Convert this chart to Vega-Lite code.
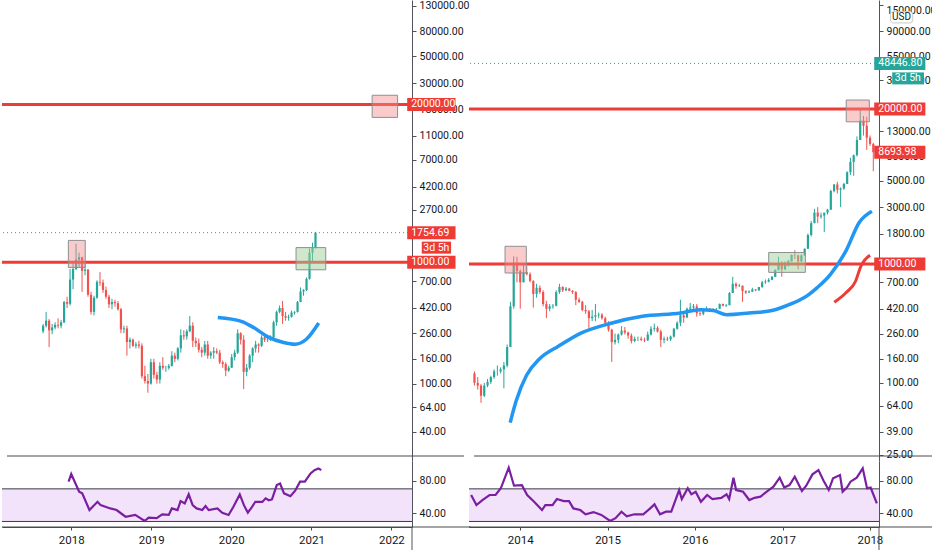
{
  "$schema": "https://vega.github.io/schema/vega-lite/v6.json",
  "padding": 0,
  "background": "white",
  "config": {"view": {"stroke": null}, "font": "Roboto"},
  "datasets": {
    "eth": [
      {"d":"2017-08-07","o":270,"h":310,"l":260,"c":300},
      {"d":"2017-08-21","o":300,"h":390,"l":290,"c":330},
      {"d":"2017-09-04","o":330,"h":340,"l":200,"c":275},
      {"d":"2017-09-18","o":275,"h":310,"l":255,"c":290},
      {"d":"2017-10-02","o":290,"h":320,"l":280,"c":305},
      {"d":"2017-10-16","o":305,"h":345,"l":285,"c":300},
      {"d":"2017-10-30","o":300,"h":335,"l":285,"c":320},
      {"d":"2017-11-13","o":320,"h":480,"l":315,"c":470},
      {"d":"2017-11-27","o":470,"h":520,"l":420,"c":455},
      {"d":"2017-12-11","o":455,"h":880,"l":440,"c":720},
      {"d":"2017-12-25","o":720,"h":1000,"l":600,"c":880},
      {"d":"2018-01-08","o":880,"h":1420,"l":860,"c":1050},
      {"d":"2018-01-22","o":1050,"h":1200,"l":900,"c":1100},
      {"d":"2018-02-05","o":1100,"h":1110,"l":570,"c":850},
      {"d":"2018-02-19","o":850,"h":960,"l":780,"c":870},
      {"d":"2018-03-05","o":870,"h":880,"l":520,"c":540},
      {"d":"2018-03-19","o":540,"h":570,"l":370,"c":390},
      {"d":"2018-04-02","o":390,"h":530,"l":365,"c":510},
      {"d":"2018-04-16","o":510,"h":710,"l":500,"c":690},
      {"d":"2018-04-30","o":690,"h":830,"l":640,"c":680},
      {"d":"2018-05-14","o":680,"h":720,"l":560,"c":590},
      {"d":"2018-05-28","o":590,"h":630,"l":500,"c":520},
      {"d":"2018-06-11","o":520,"h":540,"l":420,"c":450},
      {"d":"2018-06-25","o":450,"h":500,"l":410,"c":470},
      {"d":"2018-07-09","o":470,"h":490,"l":430,"c":460},
      {"d":"2018-07-23","o":460,"h":480,"l":400,"c":410},
      {"d":"2018-08-06","o":410,"h":420,"l":260,"c":280},
      {"d":"2018-08-20","o":280,"h":300,"l":260,"c":285},
      {"d":"2018-09-03","o":285,"h":300,"l":170,"c":220},
      {"d":"2018-09-17","o":220,"h":240,"l":195,"c":230},
      {"d":"2018-10-01","o":230,"h":235,"l":200,"c":205},
      {"d":"2018-10-15","o":205,"h":220,"l":195,"c":210},
      {"d":"2018-10-29","o":210,"h":225,"l":195,"c":205},
      {"d":"2018-11-12","o":205,"h":215,"l":110,"c":115},
      {"d":"2018-11-26","o":115,"h":140,"l":100,"c":105},
      {"d":"2018-12-10","o":105,"h":120,"l":84,"c":100},
      {"d":"2018-12-24","o":100,"h":160,"l":98,"c":150},
      {"d":"2019-01-07","o":150,"h":160,"l":110,"c":118},
      {"d":"2019-01-21","o":118,"h":125,"l":100,"c":108},
      {"d":"2019-02-04","o":108,"h":150,"l":100,"c":140},
      {"d":"2019-02-18","o":140,"h":165,"l":130,"c":135},
      {"d":"2019-03-04","o":135,"h":140,"l":125,"c":135},
      {"d":"2019-03-18","o":135,"h":145,"l":130,"c":140},
      {"d":"2019-04-01","o":140,"h":185,"l":138,"c":170},
      {"d":"2019-04-15","o":170,"h":180,"l":150,"c":160},
      {"d":"2019-04-29","o":160,"h":200,"l":155,"c":195},
      {"d":"2019-05-13","o":195,"h":280,"l":180,"c":250},
      {"d":"2019-05-27","o":250,"h":275,"l":230,"c":245},
      {"d":"2019-06-10","o":245,"h":280,"l":230,"c":270},
      {"d":"2019-06-24","o":270,"h":360,"l":265,"c":300},
      {"d":"2019-07-08","o":300,"h":320,"l":200,"c":225},
      {"d":"2019-07-22","o":225,"h":240,"l":200,"c":215},
      {"d":"2019-08-05","o":215,"h":235,"l":180,"c":190},
      {"d":"2019-08-19","o":190,"h":200,"l":165,"c":180},
      {"d":"2019-09-02","o":180,"h":225,"l":170,"c":210},
      {"d":"2019-09-16","o":210,"h":225,"l":160,"c":170},
      {"d":"2019-09-30","o":170,"h":185,"l":160,"c":180},
      {"d":"2019-10-14","o":180,"h":200,"l":160,"c":185},
      {"d":"2019-10-28","o":185,"h":195,"l":175,"c":180},
      {"d":"2019-11-11","o":180,"h":190,"l":145,"c":150},
      {"d":"2019-11-25","o":150,"h":155,"l":135,"c":145},
      {"d":"2019-12-09","o":145,"h":150,"l":115,"c":128},
      {"d":"2019-12-23","o":128,"h":140,"l":125,"c":135},
      {"d":"2020-01-06","o":135,"h":175,"l":135,"c":165},
      {"d":"2020-01-20","o":165,"h":190,"l":155,"c":180},
      {"d":"2020-02-03","o":180,"h":280,"l":175,"c":260},
      {"d":"2020-02-17","o":260,"h":265,"l":210,"c":230},
      {"d":"2020-03-02","o":230,"h":250,"l":90,"c":125},
      {"d":"2020-03-16","o":125,"h":145,"l":115,"c":135},
      {"d":"2020-03-30","o":135,"h":175,"l":130,"c":170},
      {"d":"2020-04-13","o":170,"h":200,"l":150,"c":195},
      {"d":"2020-04-27","o":195,"h":225,"l":180,"c":210},
      {"d":"2020-05-11","o":210,"h":215,"l":180,"c":205},
      {"d":"2020-05-25","o":205,"h":250,"l":200,"c":240},
      {"d":"2020-06-08","o":240,"h":250,"l":220,"c":230},
      {"d":"2020-06-22","o":230,"h":240,"l":220,"c":228},
      {"d":"2020-07-06","o":228,"h":250,"l":225,"c":240},
      {"d":"2020-07-20","o":240,"h":330,"l":235,"c":320},
      {"d":"2020-08-03","o":320,"h":400,"l":300,"c":390},
      {"d":"2020-08-17","o":390,"h":440,"l":380,"c":420},
      {"d":"2020-08-31","o":420,"h":480,"l":310,"c":360},
      {"d":"2020-09-14","o":360,"h":390,"l":330,"c":350},
      {"d":"2020-09-28","o":350,"h":370,"l":330,"c":355},
      {"d":"2020-10-12","o":355,"h":400,"l":350,"c":385},
      {"d":"2020-10-26","o":385,"h":395,"l":370,"c":390},
      {"d":"2020-11-09","o":390,"h":480,"l":385,"c":470},
      {"d":"2020-11-23","o":470,"h":620,"l":470,"c":575},
      {"d":"2020-12-07","o":575,"h":600,"l":530,"c":590},
      {"d":"2020-12-21","o":590,"h":750,"l":580,"c":730},
      {"d":"2021-01-04","o":730,"h":1300,"l":720,"c":1200},
      {"d":"2021-01-18","o":1200,"h":1450,"l":1000,"c":1320},
      {"d":"2021-02-01","o":1320,"h":1780,"l":1300,"c":1755}
    ],
    "ethMa": [
      {"d":"2019-11-02","v":351},{"d":"2020-02-20","v":326},{"d":"2020-04-20","v":288},{"d":"2020-06-21","v":244},
      {"d":"2020-09-05","v":218},{"d":"2020-10-28","v":211},{"d":"2020-12-20","v":232},{"d":"2021-02-16","v":316}
    ],
    "ethBoxes": [
      {"k":"red","d":"2017-12-03","d2":"2018-02-20","lo":906,"hi":1514},
      {"k":"green","d":"2020-11-02","d2":"2021-03-21","lo":867,"hi":1321},
      {"k":"red","d":"2021-10-24","d2":"2022-02-20","lo":15630,"hi":23800}
    ],
    "ethRsi": [
      {"d":"2017-12-20","v":78.8},{"d":"2018-01-01","v":88.2},{"d":"2018-02-06","v":66.5},{"d":"2018-02-20","v":64.5},
      {"d":"2018-03-25","v":44},{"d":"2018-05-01","v":54.2},{"d":"2018-05-15","v":50},{"d":"2018-06-28","v":46},
      {"d":"2018-07-27","v":44},{"d":"2018-09-06","v":35.8},{"d":"2018-10-20","v":38},{"d":"2018-12-02","v":30.6},
      {"d":"2018-12-20","v":34.7},{"d":"2019-01-26","v":34},{"d":"2019-02-20","v":38.8},{"d":"2019-03-22","v":38},
      {"d":"2019-04-05","v":46},{"d":"2019-05-01","v":44},{"d":"2019-05-15","v":55},{"d":"2019-06-03","v":52},
      {"d":"2019-06-21","v":63.3},{"d":"2019-07-09","v":50},{"d":"2019-07-27","v":46},{"d":"2019-08-22","v":44},
      {"d":"2019-09-06","v":49},{"d":"2019-09-20","v":44},{"d":"2019-10-30","v":46},{"d":"2019-11-21","v":40.7},
      {"d":"2019-12-20","v":38},{"d":"2020-01-11","v":48},{"d":"2020-02-09","v":63.2},{"d":"2020-02-28","v":50},
      {"d":"2020-03-17","v":40.7},{"d":"2020-04-05","v":48},{"d":"2020-04-20","v":54.2},{"d":"2020-05-22","v":54},
      {"d":"2020-06-06","v":58.4},{"d":"2020-06-21","v":56},{"d":"2020-07-05","v":57},{"d":"2020-07-27","v":74.7},
      {"d":"2020-08-11","v":76.6},{"d":"2020-08-29","v":64.5},{"d":"2020-09-27","v":61},{"d":"2020-10-19","v":67.7},
      {"d":"2020-11-10","v":78.8},{"d":"2020-12-02","v":78.8},{"d":"2020-12-28","v":89},{"d":"2021-01-15","v":93},
      {"d":"2021-02-02","v":95},{"d":"2021-02-15","v":93}
    ],
    "btc": [
      {"d":"2013-06-03","o":120,"h":125,"l":95,"c":100},
      {"d":"2013-06-17","o":100,"h":112,"l":88,"c":95},
      {"d":"2013-07-01","o":95,"h":98,"l":68,"c":78},
      {"d":"2013-07-15","o":78,"h":100,"l":76,"c":95},
      {"d":"2013-07-29","o":95,"h":108,"l":92,"c":102},
      {"d":"2013-08-12","o":102,"h":115,"l":98,"c":112},
      {"d":"2013-08-26","o":112,"h":130,"l":108,"c":125},
      {"d":"2013-09-09","o":125,"h":140,"l":115,"c":125},
      {"d":"2013-09-23","o":125,"h":135,"l":120,"c":130},
      {"d":"2013-10-07","o":130,"h":150,"l":90,"c":140},
      {"d":"2013-10-21","o":140,"h":210,"l":135,"c":200},
      {"d":"2013-11-04","o":200,"h":480,"l":200,"c":440},
      {"d":"2013-11-18","o":440,"h":1160,"l":420,"c":1000},
      {"d":"2013-12-02","o":1000,"h":1150,"l":700,"c":870},
      {"d":"2013-12-16","o":870,"h":900,"l":420,"c":700},
      {"d":"2013-12-30","o":700,"h":1000,"l":700,"c":850},
      {"d":"2014-01-13","o":850,"h":960,"l":800,"c":820},
      {"d":"2014-01-27","o":820,"h":850,"l":700,"c":720},
      {"d":"2014-02-10","o":720,"h":730,"l":430,"c":560},
      {"d":"2014-02-24","o":560,"h":680,"l":520,"c":630},
      {"d":"2014-03-10","o":630,"h":660,"l":560,"c":580},
      {"d":"2014-03-24","o":580,"h":600,"l":440,"c":460},
      {"d":"2014-04-07","o":460,"h":490,"l":350,"c":420},
      {"d":"2014-04-21","o":420,"h":460,"l":400,"c":440},
      {"d":"2014-05-05","o":440,"h":460,"l":420,"c":445},
      {"d":"2014-05-19","o":445,"h":600,"l":440,"c":580},
      {"d":"2014-06-02","o":580,"h":680,"l":560,"c":640},
      {"d":"2014-06-16","o":640,"h":650,"l":580,"c":600},
      {"d":"2014-06-30","o":600,"h":640,"l":590,"c":620},
      {"d":"2014-07-14","o":620,"h":630,"l":590,"c":595},
      {"d":"2014-07-28","o":595,"h":600,"l":560,"c":580},
      {"d":"2014-08-11","o":580,"h":590,"l":450,"c":500},
      {"d":"2014-08-25","o":500,"h":520,"l":470,"c":480},
      {"d":"2014-09-08","o":480,"h":490,"l":400,"c":410},
      {"d":"2014-09-22","o":410,"h":450,"l":380,"c":400},
      {"d":"2014-10-06","o":400,"h":410,"l":280,"c":350},
      {"d":"2014-10-20","o":350,"h":410,"l":330,"c":360},
      {"d":"2014-11-03","o":360,"h":460,"l":330,"c":370},
      {"d":"2014-11-17","o":370,"h":390,"l":350,"c":375},
      {"d":"2014-12-01","o":375,"h":385,"l":340,"c":350},
      {"d":"2014-12-15","o":350,"h":360,"l":310,"c":320},
      {"d":"2014-12-29","o":320,"h":330,"l":270,"c":280},
      {"d":"2015-01-12","o":280,"h":285,"l":150,"c":220},
      {"d":"2015-01-26","o":220,"h":260,"l":210,"c":230},
      {"d":"2015-02-09","o":230,"h":260,"l":215,"c":255},
      {"d":"2015-02-23","o":255,"h":300,"l":250,"c":275},
      {"d":"2015-03-09","o":275,"h":295,"l":255,"c":265},
      {"d":"2015-03-23","o":265,"h":270,"l":235,"c":250},
      {"d":"2015-04-06","o":250,"h":260,"l":215,"c":225},
      {"d":"2015-04-20","o":225,"h":245,"l":220,"c":235},
      {"d":"2015-05-04","o":235,"h":245,"l":225,"c":235},
      {"d":"2015-05-18","o":235,"h":245,"l":225,"c":230},
      {"d":"2015-06-01","o":230,"h":240,"l":220,"c":228},
      {"d":"2015-06-15","o":228,"h":270,"l":225,"c":255},
      {"d":"2015-06-29","o":255,"h":300,"l":250,"c":285},
      {"d":"2015-07-13","o":285,"h":315,"l":270,"c":290},
      {"d":"2015-07-27","o":290,"h":300,"l":265,"c":270},
      {"d":"2015-08-10","o":270,"h":280,"l":200,"c":230},
      {"d":"2015-08-24","o":230,"h":245,"l":215,"c":235},
      {"d":"2015-09-07","o":235,"h":245,"l":225,"c":232},
      {"d":"2015-09-21","o":232,"h":250,"l":225,"c":245},
      {"d":"2015-10-05","o":245,"h":290,"l":240,"c":285},
      {"d":"2015-10-19","o":285,"h":330,"l":280,"c":320},
      {"d":"2015-11-02","o":320,"h":500,"l":300,"c":370},
      {"d":"2015-11-16","o":370,"h":390,"l":320,"c":355},
      {"d":"2015-11-30","o":355,"h":430,"l":350,"c":420},
      {"d":"2015-12-14","o":420,"h":470,"l":410,"c":430},
      {"d":"2015-12-28","o":430,"h":460,"l":400,"c":440},
      {"d":"2016-01-11","o":440,"h":460,"l":360,"c":385},
      {"d":"2016-01-25","o":385,"h":400,"l":365,"c":380},
      {"d":"2016-02-08","o":380,"h":420,"l":370,"c":405},
      {"d":"2016-02-22","o":405,"h":440,"l":400,"c":420},
      {"d":"2016-03-07","o":420,"h":425,"l":395,"c":410},
      {"d":"2016-03-21","o":410,"h":425,"l":405,"c":418},
      {"d":"2016-04-04","o":418,"h":425,"l":410,"c":420},
      {"d":"2016-04-18","o":420,"h":465,"l":418,"c":460},
      {"d":"2016-05-02","o":460,"h":465,"l":440,"c":445},
      {"d":"2016-05-16","o":445,"h":460,"l":435,"c":450},
      {"d":"2016-05-30","o":450,"h":580,"l":450,"c":570},
      {"d":"2016-06-13","o":570,"h":780,"l":570,"c":680},
      {"d":"2016-06-27","o":680,"h":700,"l":620,"c":650},
      {"d":"2016-07-11","o":650,"h":680,"l":640,"c":655},
      {"d":"2016-07-25","o":655,"h":660,"l":480,"c":590},
      {"d":"2016-08-08","o":590,"h":600,"l":560,"c":575},
      {"d":"2016-08-22","o":575,"h":600,"l":570,"c":585},
      {"d":"2016-09-05","o":585,"h":630,"l":580,"c":610},
      {"d":"2016-09-19","o":610,"h":615,"l":590,"c":600},
      {"d":"2016-10-03","o":600,"h":640,"l":595,"c":640},
      {"d":"2016-10-17","o":640,"h":720,"l":630,"c":700},
      {"d":"2016-10-31","o":700,"h":740,"l":680,"c":710},
      {"d":"2016-11-14","o":710,"h":760,"l":700,"c":735},
      {"d":"2016-11-28","o":735,"h":790,"l":730,"c":780},
      {"d":"2016-12-12","o":780,"h":900,"l":775,"c":890},
      {"d":"2016-12-26","o":890,"h":1150,"l":880,"c":1000},
      {"d":"2017-01-09","o":1000,"h":1050,"l":780,"c":900},
      {"d":"2017-01-23","o":900,"h":1050,"l":890,"c":1020},
      {"d":"2017-02-06","o":1020,"h":1080,"l":950,"c":1050},
      {"d":"2017-02-20","o":1050,"h":1200,"l":1050,"c":1190},
      {"d":"2017-03-06","o":1190,"h":1300,"l":1100,"c":1180},
      {"d":"2017-03-20","o":1180,"h":1200,"l":900,"c":1050},
      {"d":"2017-04-03","o":1050,"h":1200,"l":1040,"c":1180},
      {"d":"2017-04-17","o":1180,"h":1350,"l":1170,"c":1340},
      {"d":"2017-05-01","o":1340,"h":1800,"l":1340,"c":1750},
      {"d":"2017-05-15","o":1750,"h":2300,"l":1700,"c":2200},
      {"d":"2017-05-29","o":2200,"h":2900,"l":2200,"c":2700},
      {"d":"2017-06-12","o":2700,"h":3000,"l":2200,"c":2500},
      {"d":"2017-06-26","o":2500,"h":2700,"l":2400,"c":2550},
      {"d":"2017-07-10","o":2550,"h":2600,"l":1850,"c":2700},
      {"d":"2017-07-24","o":2700,"h":2900,"l":2600,"c":2850},
      {"d":"2017-08-07","o":2850,"h":4200,"l":2850,"c":4100},
      {"d":"2017-08-21","o":4100,"h":4700,"l":4000,"c":4650},
      {"d":"2017-09-04","o":4650,"h":4900,"l":3900,"c":4200},
      {"d":"2017-09-18","o":4200,"h":4400,"l":3000,"c":4300},
      {"d":"2017-10-02","o":4300,"h":4800,"l":4200,"c":4700},
      {"d":"2017-10-16","o":4700,"h":6000,"l":4700,"c":5900},
      {"d":"2017-10-30","o":5900,"h":7800,"l":5600,"c":7200},
      {"d":"2017-11-13","o":7200,"h":8300,"l":5500,"c":8200},
      {"d":"2017-11-27","o":8200,"h":11800,"l":8000,"c":11000},
      {"d":"2017-12-11","o":11000,"h":19800,"l":11000,"c":16000},
      {"d":"2017-12-25","o":16000,"h":17500,"l":12000,"c":14500},
      {"d":"2018-01-08","o":14500,"h":17200,"l":9100,"c":11500},
      {"d":"2018-01-22","o":11500,"h":12000,"l":9800,"c":10200},
      {"d":"2018-02-05","o":10200,"h":10400,"l":6000,"c":8694}
    ],
    "btcMa": [
      {"d":"2013-11-03","v":46.4},{"d":"2013-11-28","v":70},{"d":"2014-01-12","v":116},{"d":"2014-03-07","v":158},
      {"d":"2014-05-30","v":204},{"d":"2014-09-02","v":262},{"d":"2015-01-05","v":316},{"d":"2015-05-23","v":363},
      {"d":"2015-11-03","v":387},{"d":"2016-01-26","v":412},{"d":"2016-03-21","v":406},{"d":"2016-05-19","v":374},
      {"d":"2016-08-22","v":387},{"d":"2016-11-28","v":406},{"d":"2017-02-17","v":461},{"d":"2017-04-27","v":539},
      {"d":"2017-06-10","v":632},{"d":"2017-08-04","v":810},{"d":"2017-10-12","v":1300},{"d":"2017-12-06","v":2220},
      {"d":"2018-01-30","v":2770}
    ],
    "btcRed": [
      {"d":"2017-08-22","v":476},{"d":"2017-10-12","v":575},{"d":"2017-11-21","v":715},{"d":"2017-12-13","v":950},{"d":"2018-01-22","v":1185}
    ],
    "btcBoxes": [
      {"k":"red","d":"2013-10-12","d2":"2014-01-11","lo":839,"hi":1406},
      {"k":"green","d":"2016-11-14","d2":"2017-04-20","lo":849,"hi":1247},
      {"k":"red","d":"2017-10-12","d2":"2018-01-19","lo":15640,"hi":23840}
    ],
    "btcRsi": [
      {"d":"2013-06-10","v":62.5},{"d":"2013-07-02","v":50.2},{"d":"2013-07-27","v":56.3},{"d":"2013-08-26","v":62.5},
      {"d":"2013-09-20","v":62.5},{"d":"2013-10-12","v":70.7},{"d":"2013-11-14","v":96},{"d":"2013-12-06","v":73.9},
      {"d":"2014-01-08","v":74.5},{"d":"2014-01-30","v":62.5},{"d":"2014-02-28","v":54.2},{"d":"2014-04-02","v":44},
      {"d":"2014-04-16","v":50},{"d":"2014-05-16","v":50},{"d":"2014-06-03","v":57.5},{"d":"2014-07-02","v":55},
      {"d":"2014-07-24","v":55},{"d":"2014-08-11","v":46},{"d":"2014-09-09","v":44},{"d":"2014-10-01","v":38.8},
      {"d":"2014-11-03","v":41.5},{"d":"2014-12-06","v":38},{"d":"2015-01-12","v":30.6},{"d":"2015-02-03","v":34},
      {"d":"2015-02-28","v":42},{"d":"2015-03-22","v":36.4},{"d":"2015-04-23","v":38.8},{"d":"2015-05-30","v":38.8},
      {"d":"2015-06-28","v":46},{"d":"2015-07-16","v":51},{"d":"2015-08-08","v":38.8},{"d":"2015-09-02","v":42},
      {"d":"2015-09-24","v":42},{"d":"2015-10-27","v":68.6},{"d":"2015-11-07","v":57.5},{"d":"2015-12-02","v":70.7},
      {"d":"2015-12-17","v":63.3},{"d":"2016-01-04","v":66.5},{"d":"2016-01-26","v":54.2},{"d":"2016-02-21","v":62.5},
      {"d":"2016-03-14","v":57.5},{"d":"2016-04-20","v":59},{"d":"2016-05-12","v":63.3},{"d":"2016-05-23","v":57.5},
      {"d":"2016-06-10","v":83.7},{"d":"2016-06-21","v":68.6},{"d":"2016-07-20","v":66.5},{"d":"2016-08-15","v":56.3},
      {"d":"2016-09-06","v":59},{"d":"2016-10-01","v":60.5},{"d":"2016-10-31","v":67.4},{"d":"2016-11-24","v":72.6},
      {"d":"2016-12-20","v":83.7},{"d":"2017-01-08","v":71.6},{"d":"2017-01-30","v":74.7},{"d":"2017-02-21","v":84.9},
      {"d":"2017-03-23","v":67.4},{"d":"2017-04-10","v":73.9},{"d":"2017-05-06","v":87.8},{"d":"2017-05-31","v":93.1},
      {"d":"2017-06-22","v":79.6},{"d":"2017-07-13","v":68.6},{"d":"2017-07-31","v":82.9},{"d":"2017-08-29","v":87},
      {"d":"2017-09-09","v":66.5},{"d":"2017-09-27","v":71.6},{"d":"2017-10-12","v":78.8},{"d":"2017-11-07","v":83.7},
      {"d":"2017-12-02","v":95.2},{"d":"2017-12-20","v":70.7},{"d":"2018-01-04","v":71.6},{"d":"2018-01-30","v":52.3}
    ]
  },
  "columns": 2,
  "bounds": "flush",
  "spacing": {"row": 0, "column": 57},
  "concat": [
    {
      "width": 410,
      "height": 461,
      "layer": [
        {
          "data": {"name": "eth"},
          "mark": {"type": "rule", "strokeWidth": 1},
          "encoding": {
            "x": {"field": "d", "type": "temporal", "scale": {"domain": [{"year": 2017, "month": 2, "date": 19}, {"year": 2022, "month": 4, "date": 5}], "nice": false}, "axis": null},
            "y": {"field": "l", "type": "quantitative", "title": null, "scale": {"type": "log", "domain": [25.3, 132000], "nice": false},
              "axis": {"orient": "right", "title": null, "values": [130000, 80000, 50000, 30000, 18000, 11000, 7000, 4200, 2700, 700, 420, 260, 160, 100, 64, 40], "format": ".2f", "tickSize": 4, "labelPadding": 3, "labelFlush": 5, "labelFontSize": 10.5, "labelColor": "#131722", "domainColor": "#50535e", "tickColor": "#50535e", "grid": false, "zindex": 0}},
            "y2": {"field": "h"},
            "color": {"condition": {"test": "datum.c >= datum.o", "value": "#26a69a"}, "value": "#ef5350"}
          }
        },
        {
          "data": {"name": "eth"},
          "mark": {"type": "bar", "width": 2.2},
          "encoding": {
            "x": {"field": "d", "type": "temporal", "axis": null},
            "y": {"field": "o", "type": "quantitative", "title": null, "scale": {"type": "log"}},
            "y2": {"field": "c"},
            "color": {"condition": {"test": "datum.c >= datum.o", "value": "#26a69a"}, "value": "#ef5350"}
          }
        },
        {
          "data": {"values": [{"p": 20000}, {"p": 1000}]},
          "mark": {"type": "rule", "color": "#ef3b36", "strokeWidth": 3},
          "encoding": {"y": {"field": "p", "type": "quantitative", "title": null, "scale": {"type": "log"}}}
        },
        {
          "data": {"values": [{"p": 1754.69}]},
          "mark": {"type": "rule", "color": "#ef5350", "strokeWidth": 1, "strokeDash": [1, 3]},
          "encoding": {"y": {"field": "p", "type": "quantitative", "title": null, "scale": {"type": "log"}}}
        },
        {
          "data": {"name": "ethMa"},
          "mark": {"type": "line", "color": "#2196f3", "strokeWidth": 3.5, "interpolate": "monotone"},
          "encoding": {
            "x": {"field": "d", "type": "temporal", "axis": null},
            "y": {"field": "v", "type": "quantitative", "title": null, "scale": {"type": "log"}}
          }
        },
        {
          "data": {"name": "ethBoxes"},
          "transform": [{"filter": "datum.k == 'red'"}],
          "mark": {"type": "rect", "fill": "#f28b8b", "fillOpacity": 0.45, "stroke": "#8f8f8f", "strokeWidth": 1},
          "encoding": {
            "x": {"field": "d", "type": "temporal", "axis": null},
            "x2": {"field": "d2"},
            "y": {"field": "lo", "type": "quantitative", "title": null, "scale": {"type": "log"}},
            "y2": {"field": "hi"}
          }
        },
        {
          "data": {"name": "ethBoxes"},
          "transform": [{"filter": "datum.k == 'green'"}],
          "mark": {"type": "rect", "fill": "#9fd09a", "fillOpacity": 0.5, "stroke": "#8f8f8f", "strokeWidth": 1},
          "encoding": {
            "x": {"field": "d", "type": "temporal", "axis": null},
            "x2": {"field": "d2"},
            "y": {"field": "lo", "type": "quantitative", "title": null, "scale": {"type": "log"}},
            "y2": {"field": "hi"}
          }
        },
        {
          "data": {"values": [{}]},
          "mark": {"type": "rule", "color": "#4a4a4a", "strokeWidth": 1},
          "encoding": {
            "x": {"datum": {"year": 2017, "month": 2, "date": 19}, "type": "temporal", "axis": null},
            "x2": {"datum": {"year": 2022, "month": 12, "date": 28}},
            "y": {"datum": 25.3, "type": "quantitative", "title": null, "scale": {"type": "log"}}
          }
        },
        {
          "data": {"values": [{"p": 20000, "t": "20000.00"}, {"p": 1754.69, "t": "1754.69"}, {"p": 1000, "t": "1000.00"}]},
          "mark": {"type": "bar", "orient": "horizontal", "height": 13, "color": "#ef3b36", "zindex": 2},
          "encoding": {
            "x": {"datum": {"year": 2022, "month": 4, "date": 6}, "type": "temporal", "axis": null},
            "x2": {"datum": {"year": 2022, "month": 11, "date": 18}},
            "y": {"field": "p", "type": "quantitative", "title": null, "scale": {"type": "log"}}
          }
        },
        {
          "data": {"values": [{"p": 1754.69, "t": "3d 5h"}]},
          "mark": {"type": "bar", "orient": "horizontal", "height": 12, "yOffset": 15, "color": "#ef3b36", "zindex": 2},
          "encoding": {
            "x": {"datum": {"year": 2022, "month": 6, "date": 13}, "type": "temporal", "axis": null},
            "x2": {"datum": {"year": 2022, "month": 10, "date": 28}},
            "y": {"field": "p", "type": "quantitative", "title": null, "scale": {"type": "log"}}
          }
        },
        {
          "data": {"values": [{"p": 20000, "t": "20000.00"}, {"p": 1754.69, "t": "1754.69"}, {"p": 1000, "t": "1000.00"}]},
          "mark": {"type": "text", "color": "white", "align": "left", "baseline": "middle", "dx": 4, "fontSize": 10.5, "zindex": 3},
          "encoding": {
            "x": {"datum": {"year": 2022, "month": 4, "date": 6}, "type": "temporal", "axis": null},
            "y": {"field": "p", "type": "quantitative", "title": null, "scale": {"type": "log"}},
            "text": {"field": "t"}
          }
        },
        {
          "data": {"values": [{"p": 1754.69, "t": "3d 5h"}]},
          "mark": {"type": "text", "color": "white", "align": "center", "baseline": "middle", "dy": 15, "fontSize": 10.5, "zindex": 3},
          "encoding": {
            "x": {"datum": {"year": 2022, "month": 8, "date": 20}, "type": "temporal", "axis": null},
            "y": {"field": "p", "type": "quantitative", "title": null, "scale": {"type": "log"}},
            "text": {"field": "t"}
          }
        }
      ]
    },
    {
      "width": 410,
      "height": 461,
      "layer": [
        {
          "data": {"name": "btc"},
          "mark": {"type": "rule", "strokeWidth": 1},
          "encoding": {
            "x": {"field": "d", "type": "temporal", "scale": {"domain": [{"year": 2013, "month": 6, "date": 1}, {"year": 2018, "month": 2, "date": 8}], "nice": false}, "axis": null},
            "y": {"field": "l", "type": "quantitative", "title": null, "scale": {"type": "log", "domain": [24.3, 150000], "nice": false},
              "axis": {"orient": "right", "title": null, "values": [150000, 90000, 55000, 35000, 13000, 8000, 5000, 3000, 1800, 700, 420, 260, 160, 100, 64, 39, 25], "format": ".2f", "tickSize": 4, "labelPadding": 3, "labelFlush": 5, "labelFontSize": 10.5, "labelColor": "#131722", "domainColor": "#50535e", "tickColor": "#50535e", "grid": false, "zindex": 0}},
            "y2": {"field": "h"},
            "color": {"condition": {"test": "datum.c >= datum.o", "value": "#26a69a"}, "value": "#ef5350"}
          }
        },
        {
          "data": {"name": "btc"},
          "mark": {"type": "bar", "width": 2.2},
          "encoding": {
            "x": {"field": "d", "type": "temporal", "axis": null},
            "y": {"field": "o", "type": "quantitative", "title": null, "scale": {"type": "log"}},
            "y2": {"field": "c"},
            "color": {"condition": {"test": "datum.c >= datum.o", "value": "#26a69a"}, "value": "#ef5350"}
          }
        },
        {
          "data": {"values": [{"p": 20000}, {"p": 1000}]},
          "mark": {"type": "rule", "color": "#ef3b36", "strokeWidth": 3},
          "encoding": {"y": {"field": "p", "type": "quantitative", "title": null, "scale": {"type": "log"}}}
        },
        {
          "data": {"values": [{"p": 48446.8}]},
          "mark": {"type": "rule", "color": "#26a69a", "strokeWidth": 1, "strokeDash": [1, 3]},
          "encoding": {"y": {"field": "p", "type": "quantitative", "title": null, "scale": {"type": "log"}}}
        },
        {
          "data": {"name": "btcMa"},
          "mark": {"type": "line", "color": "#2196f3", "strokeWidth": 3.5, "interpolate": "monotone"},
          "encoding": {
            "x": {"field": "d", "type": "temporal", "axis": null},
            "y": {"field": "v", "type": "quantitative", "title": null, "scale": {"type": "log"}}
          }
        },
        {
          "data": {"name": "btcRed"},
          "mark": {"type": "line", "color": "#ef3b36", "strokeWidth": 3, "interpolate": "monotone"},
          "encoding": {
            "x": {"field": "d", "type": "temporal", "axis": null},
            "y": {"field": "v", "type": "quantitative", "title": null, "scale": {"type": "log"}}
          }
        },
        {
          "data": {"name": "btcBoxes"},
          "transform": [{"filter": "datum.k == 'red'"}],
          "mark": {"type": "rect", "fill": "#f28b8b", "fillOpacity": 0.45, "stroke": "#8f8f8f", "strokeWidth": 1},
          "encoding": {
            "x": {"field": "d", "type": "temporal", "axis": null},
            "x2": {"field": "d2"},
            "y": {"field": "lo", "type": "quantitative", "title": null, "scale": {"type": "log"}},
            "y2": {"field": "hi"}
          }
        },
        {
          "data": {"name": "btcBoxes"},
          "transform": [{"filter": "datum.k == 'green'"}],
          "mark": {"type": "rect", "fill": "#9fd09a", "fillOpacity": 0.5, "stroke": "#8f8f8f", "strokeWidth": 1},
          "encoding": {
            "x": {"field": "d", "type": "temporal", "axis": null},
            "x2": {"field": "d2"},
            "y": {"field": "lo", "type": "quantitative", "title": null, "scale": {"type": "log"}},
            "y2": {"field": "hi"}
          }
        },
        {
          "data": {"values": [{}]},
          "mark": {"type": "rule", "color": "#4a4a4a", "strokeWidth": 1},
          "encoding": {
            "x": {"datum": {"year": 2013, "month": 6, "date": 1}, "type": "temporal", "axis": null},
            "x2": {"datum": {"year": 2018, "month": 10, "date": 15}},
            "y": {"datum": 24.3, "type": "quantitative", "title": null, "scale": {"type": "log"}}
          }
        },
        {
          "data": {"values": [{"p": 20000, "t": "20000.00"}, {"p": 8693.98, "t": "8693.98"}, {"p": 1000, "t": "1000.00"}]},
          "mark": {"type": "bar", "orient": "horizontal", "height": 13, "color": "#ef3b36", "zindex": 2},
          "encoding": {
            "x": {"datum": {"year": 2018, "month": 2, "date": 9}, "type": "temporal", "axis": null},
            "x2": {"datum": {"year": 2018, "month": 9, "date": 16}},
            "y": {"field": "p", "type": "quantitative", "title": null, "scale": {"type": "log"}}
          }
        },
        {
          "data": {"values": [{"p": 48446.8, "t": "48446.80"}]},
          "mark": {"type": "bar", "orient": "horizontal", "height": 13, "color": "#26a69a", "zindex": 2},
          "encoding": {
            "x": {"datum": {"year": 2018, "month": 2, "date": 9}, "type": "temporal", "axis": null},
            "x2": {"datum": {"year": 2018, "month": 9, "date": 16}},
            "y": {"field": "p", "type": "quantitative", "title": null, "scale": {"type": "log"}}
          }
        },
        {
          "data": {"values": [{"p": 48446.8, "t": "3d 5h"}]},
          "mark": {"type": "bar", "orient": "horizontal", "height": 12, "yOffset": 15, "color": "#26a69a", "zindex": 2},
          "encoding": {
            "x": {"datum": {"year": 2018, "month": 4, "date": 27}, "type": "temporal", "axis": null},
            "x2": {"datum": {"year": 2018, "month": 9, "date": 10}},
            "y": {"field": "p", "type": "quantitative", "title": null, "scale": {"type": "log"}}
          }
        },
        {
          "data": {"values": [{"lo": 106000, "hi": 132000}]},
          "mark": {"type": "rect", "fill": "white", "stroke": "#c8c8c8", "strokeWidth": 1, "cornerRadius": 3, "zindex": 2},
          "encoding": {
            "x": {"datum": {"year": 2018, "month": 4, "date": 20}, "type": "temporal", "axis": null},
            "x2": {"datum": {"year": 2018, "month": 7, "date": 24}},
            "y": {"field": "lo", "type": "quantitative", "title": null, "scale": {"type": "log"}},
            "y2": {"field": "hi"}
          }
        },
        {
          "data": {"values": [{"p": 20000, "t": "20000.00"}, {"p": 8693.98, "t": "8693.98"}, {"p": 1000, "t": "1000.00"}, {"p": 48446.8, "t": "48446.80"}]},
          "mark": {"type": "text", "color": "white", "align": "left", "baseline": "middle", "dx": 4, "fontSize": 10.5, "zindex": 3},
          "encoding": {
            "x": {"datum": {"year": 2018, "month": 2, "date": 9}, "type": "temporal", "axis": null},
            "y": {"field": "p", "type": "quantitative", "title": null, "scale": {"type": "log"}},
            "text": {"field": "t"}
          }
        },
        {
          "data": {"values": [{"p": 48446.8, "t": "3d 5h"}]},
          "mark": {"type": "text", "color": "white", "align": "center", "baseline": "middle", "dy": 15, "fontSize": 10.5, "zindex": 3},
          "encoding": {
            "x": {"datum": {"year": 2018, "month": 7, "date": 3}, "type": "temporal", "axis": null},
            "y": {"field": "p", "type": "quantitative", "title": null, "scale": {"type": "log"}},
            "text": {"field": "t"}
          }
        },
        {
          "data": {"values": [{"p": 118000, "t": "USD"}]},
          "mark": {"type": "text", "color": "#131722", "align": "center", "baseline": "middle", "fontSize": 10, "zindex": 3},
          "encoding": {
            "x": {"datum": {"year": 2018, "month": 6, "date": 6}, "type": "temporal", "axis": null},
            "y": {"field": "p", "type": "quantitative", "title": null, "scale": {"type": "log"}},
            "text": {"field": "t"}
          }
        }
      ]
    },
    {
      "width": 410,
      "height": 66,
      "layer": [
        {
          "data": {"values": [{}]},
          "mark": {"type": "rect", "color": "#f3e3fa"},
          "encoding": {
            "x": {"datum": {"year": 2017, "month": 2, "date": 19}, "type": "temporal", "title": null,
              "scale": {"domain": [{"year": 2017, "month": 2, "date": 19}, {"year": 2022, "month": 4, "date": 5}], "nice": false},
              "axis": {"orient": "bottom", "title": null, "values": [{"year": 2018}, {"year": 2019}, {"year": 2020}, {"year": 2021}, {"year": 2022}], "format": "%Y", "ticks": true, "tickSize": 3, "tickColor": "#4a4a4a", "labelPadding": 4, "labelFontSize": 11.5, "labelColor": "#131722", "domainColor": "#4a4a4a", "grid": false}},
            "x2": {"datum": {"year": 2022, "month": 4, "date": 5}},
            "y": {"datum": 30, "type": "quantitative", "title": null, "scale": {"domain": [23.2, 104.2], "nice": false},
              "axis": {"orient": "right", "title": null, "values": [40, 80], "format": ".2f", "tickSize": 4, "labelPadding": 3, "labelFontSize": 10.5, "labelColor": "#131722", "domainColor": "#50535e", "tickColor": "#50535e", "grid": false}},
            "y2": {"datum": 70}
          }
        },
        {
          "data": {"values": [{"v": 70}, {"v": 30}]},
          "mark": {"type": "rule", "color": "#363a45", "strokeWidth": 1},
          "encoding": {"y": {"field": "v", "type": "quantitative", "title": null}}
        },
        {
          "data": {"name": "ethRsi"},
          "mark": {"type": "line", "color": "#7b1fa2", "strokeWidth": 2.2},
          "encoding": {
            "x": {"field": "d", "type": "temporal", "title": null},
            "y": {"field": "v", "type": "quantitative", "title": null}
          }
        },
        {
          "data": {"values": [{}]},
          "mark": {"type": "rule", "color": "#4a4a4a", "strokeWidth": 1},
          "encoding": {
            "x": {"datum": {"year": 2017, "month": 2, "date": 19}, "type": "temporal", "title": null},
            "x2": {"datum": {"year": 2022, "month": 12, "date": 28}},
            "y": {"datum": 23.2, "type": "quantitative", "title": null}
          }
        },
        {
          "data": {"values": [{}]},
          "mark": {"type": "rule", "color": "#50535e", "strokeWidth": 1},
          "encoding": {
            "x": {"datum": {"year": 2022, "month": 4, "date": 5}, "type": "temporal", "title": null},
            "y": {"datum": 23.2, "type": "quantitative", "title": null},
            "y2": {"datum": -10}
          }
        }
      ]
    },
    {
      "width": 410,
      "height": 66,
      "layer": [
        {
          "data": {"values": [{}]},
          "mark": {"type": "rect", "color": "#f3e3fa"},
          "encoding": {
            "x": {"datum": {"year": 2013, "month": 6, "date": 1}, "type": "temporal", "title": null,
              "scale": {"domain": [{"year": 2013, "month": 6, "date": 1}, {"year": 2018, "month": 2, "date": 8}], "nice": false},
              "axis": {"orient": "bottom", "title": null, "values": [{"year": 2014}, {"year": 2015}, {"year": 2016}, {"year": 2017}, {"year": 2018}], "format": "%Y", "ticks": true, "tickSize": 3, "tickColor": "#4a4a4a", "labelPadding": 4, "labelFontSize": 11.5, "labelColor": "#131722", "domainColor": "#4a4a4a", "grid": false}},
            "x2": {"datum": {"year": 2018, "month": 2, "date": 8}},
            "y": {"datum": 30, "type": "quantitative", "title": null, "scale": {"domain": [23.2, 104.2], "nice": false},
              "axis": {"orient": "right", "title": null, "values": [40, 80], "format": ".2f", "tickSize": 4, "labelPadding": 3, "labelFontSize": 10.5, "labelColor": "#131722", "domainColor": "#50535e", "tickColor": "#50535e", "grid": false}},
            "y2": {"datum": 70}
          }
        },
        {
          "data": {"values": [{"v": 70}, {"v": 30}]},
          "mark": {"type": "rule", "color": "#363a45", "strokeWidth": 1},
          "encoding": {"y": {"field": "v", "type": "quantitative", "title": null}}
        },
        {
          "data": {"name": "btcRsi"},
          "mark": {"type": "line", "color": "#7b1fa2", "strokeWidth": 2.2},
          "encoding": {
            "x": {"field": "d", "type": "temporal", "title": null},
            "y": {"field": "v", "type": "quantitative", "title": null}
          }
        },
        {
          "data": {"values": [{}]},
          "mark": {"type": "rule", "color": "#4a4a4a", "strokeWidth": 1},
          "encoding": {
            "x": {"datum": {"year": 2013, "month": 6, "date": 1}, "type": "temporal", "title": null},
            "x2": {"datum": {"year": 2018, "month": 10, "date": 15}},
            "y": {"datum": 23.2, "type": "quantitative", "title": null}
          }
        },
        {
          "data": {"values": [{}]},
          "mark": {"type": "rule", "color": "#50535e", "strokeWidth": 1},
          "encoding": {
            "x": {"datum": {"year": 2018, "month": 2, "date": 8}, "type": "temporal", "title": null},
            "y": {"datum": 23.2, "type": "quantitative", "title": null},
            "y2": {"datum": -10}
          }
        }
      ]
    }
  ]
}
